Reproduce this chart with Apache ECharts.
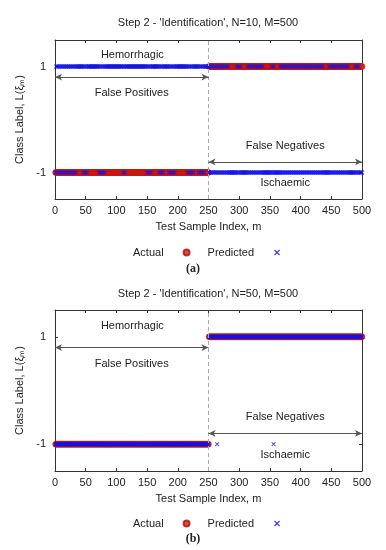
<!DOCTYPE html>
<html>
<head>
<meta charset="utf-8">
<script src="https://cdn.jsdelivr.net/npm/echarts@6/dist/echarts.min.js"></script>
<style>
  html, body { margin: 0; padding: 0; background: #fff; }
  #main { width: 386px; height: 550px; }
</style>
</head>
<body>
<div id="main"></div>
<script>
// test samples m = 1..500, actual class: ischaemic (-1) then hemorrhagic (1)
const actualRuns = [[1, 250, -1], [251, 500, 1]];

// predicted label for every test sample, '+' = 1, '-' = -1
// one row = 50 samples, groups of 10
const predictedN10 = [
  '-++-++-++- ++-++-++-+ +-++-++-++ -++-++++++ +++++-++-+',
  '+-++++++++ ++++++++++ +-++-++-++ -+++++++++ ++++++++++',
  '++++++++++ -++-++++++ ++++++++++ ++++++++++ +++++++++-',
  '++-++-++++ +++++++++- ++-++-++++ +++++-++-+ +-++-+++++',
  '++++++++++ +++++-++-+ +-++-+++++ +++-++-++- ++-+++++++',
  '-+--+--+-- +--+--+--+ --+--+--+- -+-------- -----+--+-',
  '-+-------- ---+--+--+ --+--+--+- -+--+--+-- ----------',
  '--+--+---- ------+--+ --+--+--+- -+--+--+-- +--+--+--+',
  '--+--+--+- -+--+--+-- +--+--+--+ --+--+---- ------+--+',
  '--+--+--+- -+--+--+-- +--+--+--- --------+- -+--+-----'
];
const predictedN50 = [
  '---------- ---------- ---------- ---------- ----------',
  '---------- ---------- ---------- ---------- ----------',
  '---------- ---------- ---------- ---------- ----------',
  '---------- ---------- ---------- ---------- ----------',
  '---------- ---------- ---------- ---------- ----------',
  '++++++++++ +++-++++++ ++++++++++ ++++++++++ ++++++++++',
  '++++++++++ ++++++++++ ++++++++++ ++++++++++ ++++++++++',
  '+++++-++++ ++++++++++ ++++++++++ ++++++++++ ++++++++++',
  '++++++++++ ++++++++++ ++++++++++ ++++++++++ ++++++++++',
  '++++++++++ ++++++++++ ++++++++++ ++++++++++ ++++++++++'
];

const yTickValues = [-1, 1];
const panelTitles = [
  "Step 2 - 'Identification', N=10, M=500",
  "Step 2 - 'Identification', N=50, M=500"
];
const panelCaptions = ['(a)', '(b)'];
const legendNames = ['Actual', 'Predicted'];

const FONT = 'Liberation Sans';
const crossSymbol = 'path://M0,1.5L1.5,0L5,3.5L8.5,0L10,1.5L6.5,5L10,8.5L8.5,10L5,6.5L1.5,10L0,8.5L3.5,5Z';

function runsToPoints(runs) {
  const pts = [];
  runs.forEach(function (r) {
    for (let m = r[0]; m <= r[1]; m++) pts.push([m, r[2]]);
  });
  return pts;
}

function labelsToPoints(rows) {
  const s = rows.join('').replace(/ /g, '');
  const pts = [];
  for (let i = 0; i < s.length; i++) pts.push([i + 1, s[i] === '+' ? 1 : -1]);
  return pts;
}

const panels = [
  { top: 40, height: 159, predicted: predictedN10, title: 17, legend: 247, caption: 263 },
  { top: 310, height: 161, predicted: predictedN50, title: 288, legend: 518, caption: 533 }
];

const grid = [], xAxis = [], yAxis = [], series = [], title = [], legend = [];

panels.forEach(function (p, k) {
  grid.push({ left: 55, right: 24, top: p.top, height: p.height });

  const xBase = {
    gridIndex: k, type: 'value', min: 0, max: 500, interval: 50,
    axisLine: { show: true, onZero: false, lineStyle: { color: '#333', width: 1 } },
    axisTick: { show: true, inside: true, length: 3, lineStyle: { color: '#333' } },
    splitLine: { show: false }
  };
  xAxis.push(Object.assign({}, xBase, {
    position: 'bottom',
    axisLabel: { color: '#222', fontSize: 11, fontFamily: FONT, margin: 6 },
    name: 'Test Sample Index, m', nameLocation: 'middle', nameGap: 22,
    nameTextStyle: { color: '#222', fontSize: 11, fontFamily: FONT }
  }));
  xAxis.push(Object.assign({}, xBase, { position: 'top', axisLabel: { show: false } }));

  const yBase = {
    gridIndex: k, type: 'value', min: -1.5, max: 1.5,
    axisLine: { show: true, onZero: false, lineStyle: { color: '#333', width: 1 } },
    axisTick: { show: true, inside: true, length: 3, customValues: yTickValues, lineStyle: { color: '#333' } },
    splitLine: { show: false }
  };
  yAxis.push(Object.assign({}, yBase, {
    position: 'left',
    axisLabel: { color: '#222', fontSize: 11, fontFamily: FONT, margin: 9, customValues: yTickValues },
    name: 'Class Label, L(ξ\u2098)', nameLocation: 'middle', nameGap: 29, nameRotate: 90,
    nameTextStyle: { color: '#222', fontSize: 11, fontFamily: FONT }
  }));
  yAxis.push(Object.assign({}, yBase, { position: 'right', axisLabel: { show: false } }));

  series.push({
    name: 'Actual', type: 'scatter', xAxisIndex: 2 * k, yAxisIndex: 2 * k,
    symbol: 'circle', symbolSize: 6,
    itemStyle: { color: '#e8190f', borderColor: '#a0140c', borderWidth: 0.4 },
    data: runsToPoints(actualRuns),
    markLine: {
      silent: true, symbol: ['none', 'none'], label: { show: false },
      lineStyle: { type: [4, 3], color: '#aaa', width: 1 },
      data: [{ xAxis: 250 }]
    }
  });
  series.push({
    name: 'Predicted', type: 'scatter', xAxisIndex: 2 * k, yAxisIndex: 2 * k,
    symbol: crossSymbol, symbolSize: 4.5,
    itemStyle: { color: '#1414e6' },
    data: labelsToPoints(p.predicted),
    markLine: {
      silent: true, symbol: ['arrow', 'arrow'], symbolSize: [5, 7], label: { show: false },
      lineStyle: { type: 'solid', color: '#555', width: 1 },
      data: [
        [{ coord: [0, 0.8] }, { coord: [250, 0.8] }],
        [{ coord: [250, -0.8] }, { coord: [500, -0.8] }]
      ]
    },
    markPoint: {
      silent: true, symbol: 'rect', symbolSize: 1,
      itemStyle: { color: 'rgba(0,0,0,0)' },
      label: {
        show: true, position: 'inside', color: '#222', fontSize: 11, fontFamily: FONT,
        formatter: function (d) { return d.name; }
      },
      data: [
        { name: 'Hemorrhagic', coord: [126, 1.21] },
        { name: 'False Positives', coord: [125, 0.5] },
        { name: 'False Negatives', coord: [375, -0.5] },
        { name: 'Ischaemic', coord: [375, -1.2] }
      ]
    }
  });

  title.push({
    text: panelTitles[k], left: 208, top: p.title, textAlign: 'center', padding: 0,
    textStyle: { color: '#222', fontSize: 11, fontWeight: 'normal', fontFamily: FONT }
  });
  title.push({
    text: panelCaptions[k], left: 193, top: p.caption, textAlign: 'center', padding: 0,
    textStyle: { color: '#222', fontSize: 12, fontWeight: 'bold', fontFamily: 'Liberation Serif' }
  });

  legend.push({
    top: p.legend, left: 133, align: 'right', orient: 'horizontal',
    itemWidth: 36, itemHeight: 6, itemGap: 17, padding: 0, selectedMode: false,
    textStyle: { color: '#222', fontSize: 11, fontFamily: FONT },
    data: legendNames
  });
});

const chart = echarts.init(document.getElementById('main'), null, { renderer: 'canvas' });
chart.setOption({
  backgroundColor: '#fff',
  animation: false,
  textStyle: { fontFamily: FONT },
  title: title,
  legend: legend,
  grid: grid,
  xAxis: xAxis,
  yAxis: yAxis,
  series: series
});
</script>
</body>
</html>
